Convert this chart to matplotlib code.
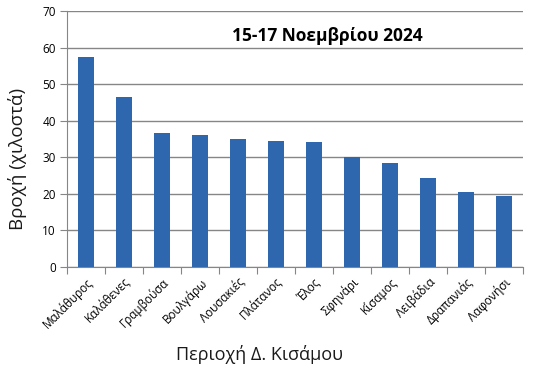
import matplotlib
matplotlib.use("Agg")
import matplotlib.pyplot as plt
import numpy as np

categories = ["Μαλάθυρος", "Καλάθενες", "Γραμβούσα", "Βουλγάρω", "Λουσακιές", "Πλάτανος",
              "Έλος", "Σφηνάρι", "Κίσαμος", "Λειβάδια", "Δραπανιάς", "Λαφονήσι"]
values = [57.5, 46.5, 36.6, 36.1, 35.0, 34.5, 34.2, 30.1, 28.4, 24.3, 20.4, 19.4]
yticks = [0, 10, 20, 30, 40, 50, 60, 70]

plt.rcParams['font.family'] = ['Open Sans', 'DejaVu Sans']

fig = plt.figure(figsize=(5.43, 3.75), dpi=100)
ax = fig.add_axes([67/543, 1-267/375, 456/543, 256/375])

x = np.arange(len(categories))
ax.bar(x, values, width=0.4, color="#2e67ad", zorder=3)
ax.set_xlim(-0.5, len(categories)-0.5)
ax.set_ylim(0, 70)
ax.set_yticks(yticks)
ax.set_yticklabels([str(t) for t in yticks], fontsize=8.5)
ax.yaxis.grid(True, color="#868686", linewidth=1.0, zorder=0)
ax.set_axisbelow(True)

ax.set_xticks(np.arange(len(categories)+1)-0.5)
ax.set_xticklabels([])
ax.set_xticks(x, minor=True)
ax.set_xticklabels(categories, minor=True, rotation=45, ha="right", va="top",
                   rotation_mode="anchor", fontsize=8.5)
ax.tick_params(axis="x", which="minor", length=0, pad=6)
ax.tick_params(axis="x", which="major", length=5, color="#868686", direction="out")
ax.tick_params(axis="y", length=5, color="#868686", direction="out", pad=3)

for s in ["top", "right"]:
    ax.spines[s].set_visible(False)
for s in ["left", "bottom"]:
    ax.spines[s].set_color("#868686")

ax.text(0.57, 0.902, "15-17 Νοεμβρίου 2024", transform=ax.transAxes, ha="center", va="center",
        fontsize=12.5, fontweight="bold", color="#000000")

fig.text(18/543, 1-159/375, "Βροχή (χιλοστά)", rotation=90, ha="center", va="center",
         fontsize=13.5, color="#1a1a1a")
fig.text(260/543, 1-354/375, "Περιοχή Δ. Κισάμου", ha="center", va="center",
         fontsize=13, color="#1a1a1a")

fig.savefig("out.png", dpi=100)
